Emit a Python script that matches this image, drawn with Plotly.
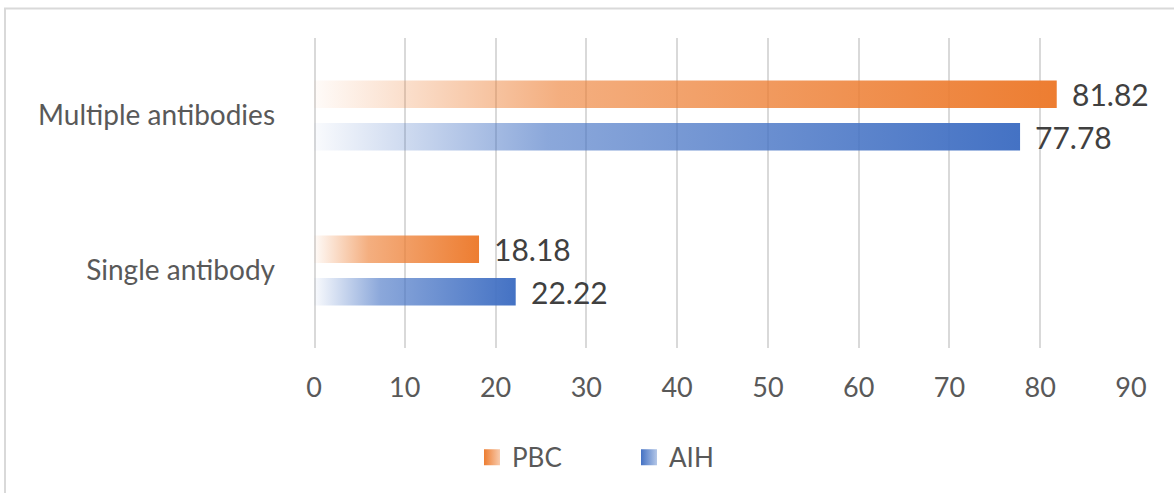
import plotly.graph_objects as go

# Chart data
categories = ["Single antibody", "Multiple antibodies"]
series_names = ["PBC", "AIH"]
pbc_values = [18.18, 81.82]
aih_values = [22.22, 77.78]
x_ticks = [0, 10, 20, 30, 40, 50, 60, 70, 80, 90]

series_values = {"PBC": pbc_values, "AIH": aih_values}
series_rgb = {"PBC": (237, 125, 49), "AIH": (68, 114, 196)}
# vertical offset of each series inside its category band (PBC above AIH)
series_offset = {"PBC": 0.137, "AIH": -0.137}
half_height = 0.089
legend_ids = {"PBC": "legend", "AIH": "legend2"}


def tint(rgb, amount):
    """Blend a colour toward white by the given amount (0..1)."""
    return "rgb({},{},{})".format(*[round(c + (255 - c) * amount) for c in rgb])


fig = go.Figure()

for name in series_names:
    rgb = series_rgb[name]
    r, g, b = rgb
    scale = [
        [0.0, f"rgba({r},{g},{b},0.03)"],
        [0.33, f"rgba({r},{g},{b},0.62)"],
        [1.0, f"rgba({r},{g},{b},1)"],
    ]
    for i, (cat, val) in enumerate(zip(categories, series_values[name])):
        yc = i + series_offset[name]
        fig.add_trace(go.Scatter(
            x=[0, val, val, 0, 0],
            y=[yc - half_height, yc - half_height, yc + half_height, yc + half_height, yc - half_height],
            mode="none",
            fill="toself",
            fillgradient=dict(type="horizontal", colorscale=scale, start=0, stop=val),
            name=name,
            showlegend=False,
            hoverinfo="skip",
        ))
        fig.add_annotation(
            x=val, y=yc, text=f"{val:.2f}", showarrow=False,
            xanchor="left", yanchor="middle", xshift=13,
            font=dict(size=30, color="#404040"),
        )
    # legend key: square with a light-to-dark horizontal gradient
    fig.add_trace(go.Scatter(
        x=[None], y=[None], mode="markers", name=name,
        marker=dict(symbol="square", size=17, color=f"rgb({r},{g},{b})",
                    gradient=dict(type="horizontal", color=tint(rgb, 0.6)),
                    line=dict(width=0)),
        legend=legend_ids[name], showlegend=True, hoverinfo="skip",
    ))

plot_l, plot_r, plot_t, plot_b = 314, 43, 38, 140
pw, ph = 1174 - plot_l - plot_r, 493 - plot_t - plot_b
legend_style = dict(
    orientation="h", yanchor="middle", y=(353 - 464) / ph, xanchor="left",
    font=dict(size=26, color="#595959"), bgcolor="rgba(0,0,0,0)",
)
fig.update_layout(
    width=1174, height=493,
    margin=dict(l=plot_l, r=plot_r, t=plot_t, b=plot_b),
    paper_bgcolor="white", plot_bgcolor="white",
    font=dict(family="Lato", size=27, color="#595959"),
    showlegend=True,
    legend=dict(legend_style, x=(472 - plot_l) / pw),
    legend2=dict(legend_style, x=(629 - plot_l) / pw),
    xaxis=dict(
        range=[0, 90], tickvals=x_ticks, showgrid=True, gridcolor="#D9D9D9", gridwidth=2,
        zeroline=False, showline=False, ticks="", ticklabelstandoff=21,
        tickfont=dict(size=27, color="#595959"), fixedrange=True,
    ),
    yaxis=dict(
        range=[-0.5, 1.5], tickvals=[0, 1], ticktext=categories, showgrid=False,
        zeroline=False, showline=False, ticks="", ticklabelstandoff=38,
        tickfont=dict(size=28, color="#595959"), fixedrange=True,
    ),
    shapes=[
        # thicker vertical axis line at zero
        dict(type="line", xref="x", yref="paper", x0=0, x1=0, y0=0, y1=1,
             line=dict(color="#D9D9D9", width=4), layer="below"),
        # chart frame
        dict(type="rect", xref="paper", yref="paper",
             x0=(5 - plot_l) / pw, x1=1.2, y0=-0.6, y1=(353 - 8) / ph,
             line=dict(color="#D9D9D9", width=2), fillcolor="rgba(0,0,0,0)"),
    ],
)

fig.write_html("out.html")
